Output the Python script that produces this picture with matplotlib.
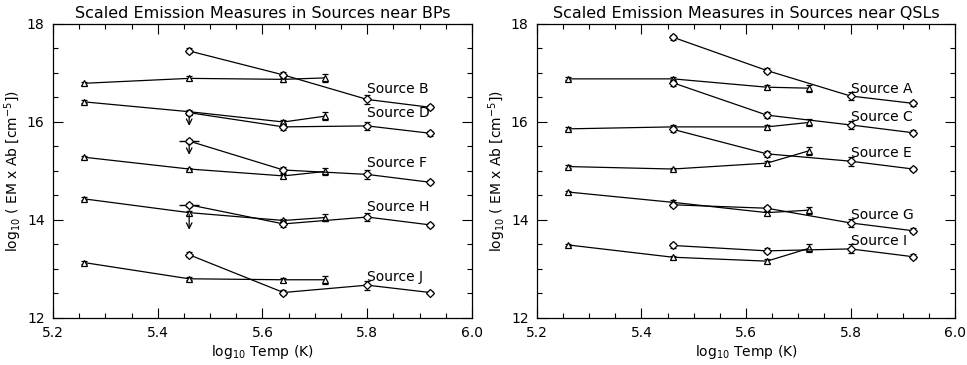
import matplotlib
matplotlib.use("Agg")
import matplotlib.pyplot as plt
from matplotlib.ticker import MultipleLocator

# temperatures of the two line sets
temp_tri = [5.26, 5.46, 5.64, 5.72]
temp_dia = [5.46, 5.64, 5.80, 5.92]

# sources near bright points (BPs)
bp_names = ["Source B", "Source D", "Source F", "Source H", "Source J"]
bp_label_y = [16.67, 16.18, 15.16, 14.26, 12.84]
bp_tri = [
    [16.79, 16.89, 16.87, 16.90],
    [16.41, 16.21, 16.00, 16.12],
    [15.28, 15.04, 14.90, 14.99],
    [14.43, 14.15, 13.99, 14.05],
    [13.13, 12.80, 12.78, 12.78],
]
bp_tri_err = [
    [0.03, 0.04, 0.05, 0.08],
    [0.03, 0.04, 0.04, 0.08],
    [0.03, 0.03, 0.04, 0.08],
    [0.03, 0.04, 0.04, 0.07],
    [0.03, 0.03, 0.04, 0.08],
]
bp_dia = [
    [17.45, 16.96, 16.46, 16.30],
    [16.19, 15.90, 15.92, 15.77],
    [15.61, 15.02, 14.93, 14.77],
    [14.31, 13.92, 14.06, 13.90],
    [13.29, 12.52, 12.67, 12.52],
]
bp_dia_err = [
    [0.05, 0.06, 0.09, 0.04],
    [0.03, 0.07, 0.08, 0.05],
    [0.04, 0.06, 0.09, 0.04],
    [0.04, 0.06, 0.09, 0.04],
    [0.05, 0.05, 0.09, 0.04],
]
# upper limits (diamond points at 5.46) and arrow tips
bp_lim_x = [5.46, 5.46, 5.46]
bp_lim_y = [16.12, 15.55, 14.12]
bp_lim_tip = [15.92, 15.33, 13.80]
bp_dash_x = [5.46, 5.46]
bp_dash_y = [15.61, 14.31]

# sources near quasi-separatrix layers (QSLs)
qsl_names = ["Source A", "Source C", "Source E", "Source G", "Source I"]
qsl_label_y = [16.67, 16.11, 15.37, 14.11, 13.57]
qsl_tri = [
    [16.88, 16.88, 16.71, 16.69],
    [15.86, 15.90, 15.90, 15.99],
    [15.09, 15.04, 15.16, 15.41],
    [14.57, 14.36, 14.15, 14.20],
    [13.49, 13.24, 13.16, 13.42],
]
qsl_tri_err = [
    [0.03, 0.04, 0.04, 0.07],
    [0.03, 0.04, 0.04, 0.07],
    [0.03, 0.03, 0.04, 0.08],
    [0.03, 0.04, 0.04, 0.07],
    [0.03, 0.03, 0.04, 0.08],
]
qsl_dia = [
    [17.73, 17.05, 16.53, 16.38],
    [16.80, 16.14, 15.94, 15.78],
    [15.85, 15.35, 15.20, 15.04],
    [14.31, 14.24, 13.94, 13.78],
    [13.48, 13.37, 13.41, 13.25],
]
qsl_dia_err = [
    [0.05, 0.05, 0.09, 0.05],
    [0.06, 0.06, 0.09, 0.05],
    [0.05, 0.06, 0.09, 0.05],
    [0.05, 0.05, 0.09, 0.05],
    [0.05, 0.05, 0.09, 0.05],
]

plt.rcParams["font.family"] = ["DejaVu Sans"]
plt.rcParams["font.size"] = 10

fig = plt.figure(figsize=(9.67, 3.65), dpi=100)
ax1 = fig.add_axes([0.0548, 0.1288, 0.4333, 0.8055])
ax2 = fig.add_axes([0.5553, 0.1288, 0.4323, 0.8055])


def draw_panel(ax, title, names, label_y, tri, tri_err, dia, dia_err):
    for k in range(len(names)):
        ax.errorbar(temp_tri, tri[k], yerr=tri_err[k], color="black", lw=0.9,
                    marker="^", ms=5, mfc="white", mec="black", mew=0.9,
                    capsize=2, elinewidth=0.8)
        ax.errorbar(temp_dia, dia[k], yerr=dia_err[k], color="black", lw=0.9,
                    marker="D", ms=4, mfc="white", mec="black", mew=0.9,
                    capsize=2, elinewidth=0.8)
        ax.text(5.80, label_y[k], names[k], fontsize=10, ha="left", va="center")
    ax.set_xlim(5.2, 6.0)
    ax.set_ylim(12, 18)
    ax.xaxis.set_major_locator(MultipleLocator(0.2))
    ax.xaxis.set_minor_locator(MultipleLocator(0.05))
    ax.yaxis.set_major_locator(MultipleLocator(2))
    ax.yaxis.set_minor_locator(MultipleLocator(0.5))
    ax.xaxis.set_major_formatter(plt.FuncFormatter(lambda v, p: f"{v:.1f}"))
    ax.yaxis.set_major_formatter(plt.FuncFormatter(lambda v, p: f"{v:.0f}"))
    ax.tick_params(which="both", direction="in", top=True, right=True, width=0.8)
    ax.tick_params(which="major", length=7, labelsize=10, pad=6)
    ax.tick_params(which="minor", length=3.5)
    for s in ax.spines.values():
        s.set_linewidth(0.9)
    ax.set_title(title, fontsize=11.5, pad=4)
    ax.set_xlabel(r"log$_{10}$ Temp (K)", fontsize=10, labelpad=2)
    ax.set_ylabel(r"log$_{10}$ ( EM x Ab [cm$^{-5}$])", fontsize=10, labelpad=2)


draw_panel(ax1, "Scaled Emission Measures in Sources near BPs",
           bp_names, bp_label_y, bp_tri, bp_tri_err, bp_dia, bp_dia_err)
draw_panel(ax2, "Scaled Emission Measures in Sources near QSLs",
           qsl_names, qsl_label_y, qsl_tri, qsl_tri_err, qsl_dia, qsl_dia_err)

# upper-limit arrows in the BP panel
for x, y0, y1 in zip(bp_lim_x, bp_lim_y, bp_lim_tip):
    ax1.annotate("", xy=(x, y1), xytext=(x, y0),
                 arrowprops=dict(arrowstyle="->", color="black", lw=0.9,
                                 shrinkA=0, shrinkB=0))
ax1.plot(bp_dash_x, bp_dash_y, linestyle="none", marker="_", ms=14,
         mew=1.0, color="black")

fig.savefig("out.png", dpi=100)
